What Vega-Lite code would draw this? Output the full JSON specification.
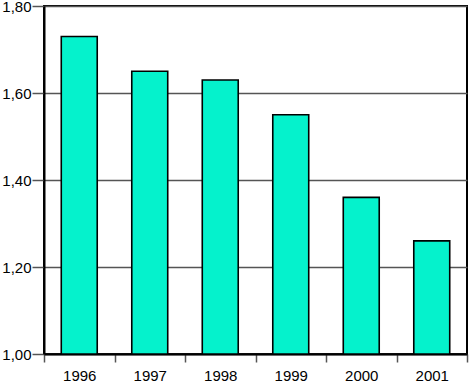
{
  "$schema": "https://vega.github.io/schema/vega-lite/v6.json",
  "autosize": "none",
  "width": 423,
  "height": 348,
  "padding": {"left": 44, "top": 6, "right": 2, "bottom": 28},
  "background": "white",
  "data": {"values": [
    {"year": "1996", "value": 1.73},
    {"year": "1997", "value": 1.65},
    {"year": "1998", "value": 1.63},
    {"year": "1999", "value": 1.55},
    {"year": "2000", "value": 1.36},
    {"year": "2001", "value": 1.26}
  ]},
  "mark": {"type": "bar", "fill": "#05F2CC", "stroke": "black", "strokeWidth": 1.6, "width": {"band": 0.51}},
  "encoding": {
    "x": {
      "field": "year", "type": "nominal",
      "scale": {"paddingInner": 0, "paddingOuter": 0},
      "axis": {
        "title": null, "labelAngle": 0, "labelFont": "Liberation Sans", "labelFontSize": 15,
        "labelColor": "black", "labelPadding": 6, "tickBand": "extent", "tickSize": 8,
        "tickColor": "#555", "tickWidth": 1.5, "domainColor": "black", "domainWidth": 2
      }
    },
    "y": {
      "field": "value", "type": "quantitative",
      "scale": {"domain": [1, 1.8], "zero": false, "nice": false},
      "axis": {
        "title": null, "values": [1, 1.2, 1.4, 1.6, 1.8],
        "labelExpr": "replace(format(datum.value, '.2f'), '.', ',')",
        "labelFont": "Liberation Sans", "labelFontSize": 15, "labelColor": "black",
        "labelPadding": 1, "tickSize": 12, "tickColor": "#555", "tickWidth": 1.5,
        "domainColor": "black", "domainWidth": 2,
        "grid": true, "gridColor": "#555", "gridWidth": 1.5
      }
    },
    "y2": {"datum": 1}
  },
  "config": {"view": {"stroke": "black", "strokeWidth": 2}}
}
